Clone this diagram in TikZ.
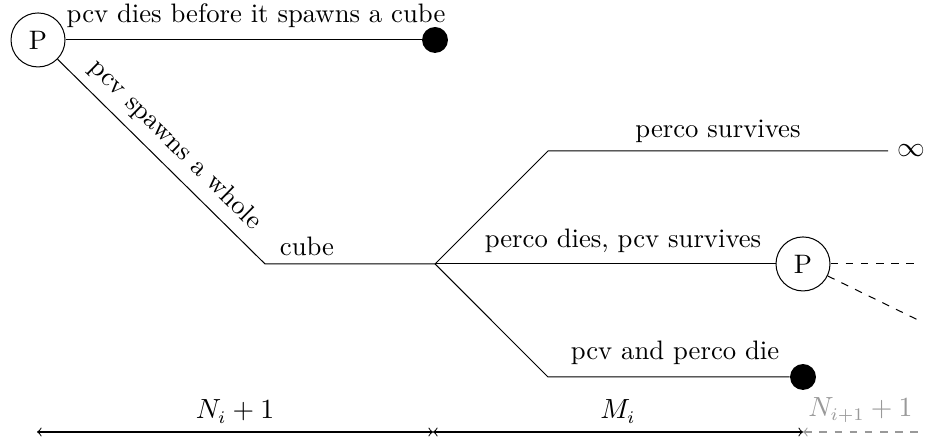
\documentclass[tikz,border=0pt]{standalone}
\usepackage{amsmath}
\usetikzlibrary{arrows}

\begin{document}
\begin{tikzpicture}[
    every node/.style={font=\fontsize{10.55}{12.7}\selectfont},
    proc/.style={circle, draw, minimum size=0.75cm, inner sep=0pt},
    dead/.style={circle, fill=black, minimum size=0.36cm, inner sep=0pt},
    lbl/.style={inner sep=0pt},
    span/.style={<->, >=to},
    future/.style={gray!80, dashed}
]
    \useasboundingbox (0,0) rectangle (12.917,6.194);

    \node[proc] (p1) at (0.528,5.639) {P};
    \node[dead] (d1) at (6.042,5.639) {};
    \coordinate (c1) at (3.681,2.528);
    \coordinate (b1) at (6.042,2.528);
    \coordinate (u1) at (7.611,4.097);
    \coordinate (l1) at (7.611,0.958);
    \node (inf) at (12.653,4.097) {$\infty$};
    \node[proc] (p2) at (11.153,2.528) {P};
    \node[dead] (d2) at (11.153,0.958) {};
    \coordinate (e1) at (12.75,2.528);
    \coordinate (e2) at (12.75,1.75);

    \draw (p1) -- (d1);
    \draw (p1) -- (c1) -- (b1);
    \draw (b1) -- (u1) -- (inf);
    \draw (b1) -- (p2);
    \draw (b1) -- (l1) -- (d2);
    \draw[dashed] (p2) -- (e1);
    \draw[dashed] (p2) -- (e2);

    \node[lbl] (dies) at (3.556,5.972) {pcv dies before it spawns a cube};
    \node[lbl, rotate=-44.6] (spawn) at (2.431,4.181) {pcv spawns a whole};
    \node[lbl] (cube) at (4.264,2.778) {cube};
    \node[lbl] (surv) at (9.972,4.375) {perco survives};
    \node[lbl] (half) at (8.653,2.847) {perco dies, pcv survives};
    \node[lbl] (both) at (9.375,1.292) {pcv and perco die};

    % lengths
    \coordinate (s0) at (0.514,0.194);
    \coordinate (s1) at (6.014,0.194);
    \coordinate (s2) at (11.153,0.194);
    \coordinate (s3) at (12.75,0.194);
    \draw[span] (s0) -- node[above] (lenN) {$N_i+1$} (s1);
    \draw[span] (s1) -- node[above] (lenM) {$M_i$} (s2);
    \draw[future, <-, >=to] (s2) -- node[above] (lenNext) {$N_{i+1}+1$} (s3);
\end{tikzpicture}
\end{document}
